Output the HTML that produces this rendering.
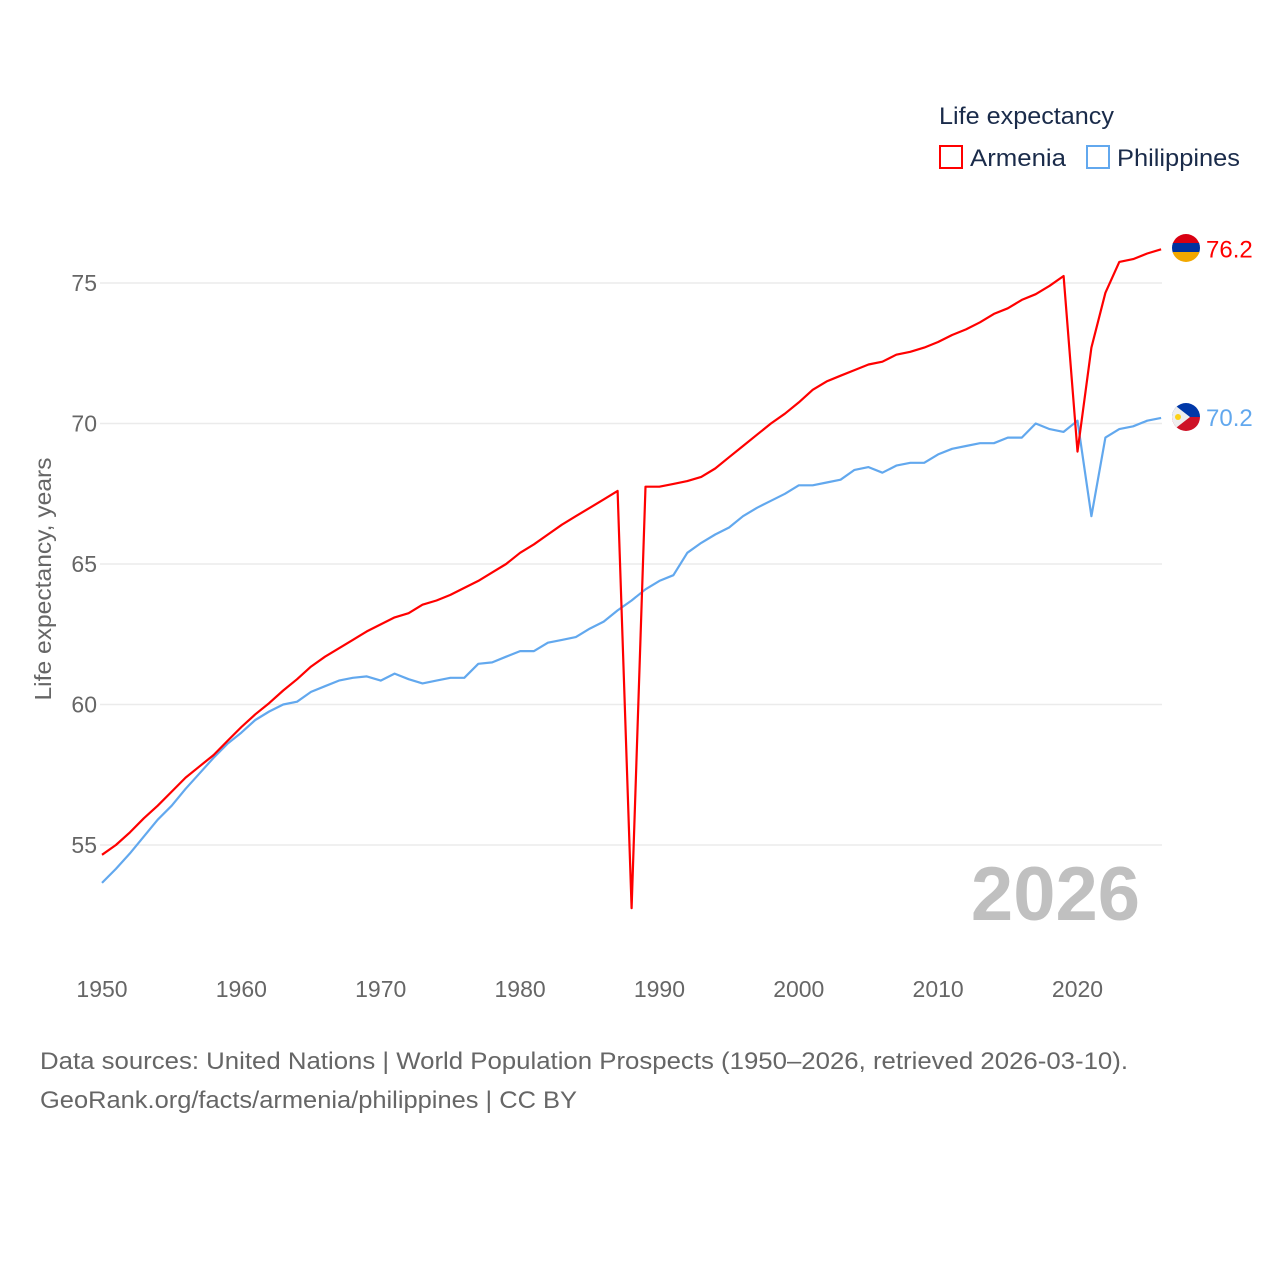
<!DOCTYPE html>
<html><head><meta charset="utf-8"><style>
body{margin:0;background:#fff;}
svg text{font-family:"Liberation Sans",sans-serif;}
</style></head><body>
<svg id="chart" width="1280" height="1280" xmlns="http://www.w3.org/2000/svg">
<rect width="1280" height="1280" fill="#fff"/>
<g id="grid"></g>
<g id="yticks"></g>
<g id="xticks"></g>
<text transform="translate(51,579) rotate(-90)" text-anchor="middle" font-size="23" fill="#666" textLength="243" lengthAdjust="spacingAndGlyphs">Life expectancy, years</text>
<text x="1140" y="920" text-anchor="end" font-size="76" font-weight="bold" fill="#c0c0c0">2026</text>
<g id="series"></g>
<g>
<text x="939" y="124" font-size="24" fill="#1a2b4a" textLength="175" lengthAdjust="spacingAndGlyphs">Life expectancy</text>
<g><rect x="940" y="146" width="22" height="22" fill="none" stroke="#ff0000" stroke-width="2"/><text x="970" y="166" font-size="24" fill="#1a2b4a" textLength="96" lengthAdjust="spacingAndGlyphs">Armenia</text></g>
<g><rect x="1087" y="146" width="22" height="22" fill="none" stroke="#62a8ee" stroke-width="2"/><text x="1117" y="166" font-size="24" fill="#1a2b4a" textLength="123" lengthAdjust="spacingAndGlyphs">Philippines</text></g>
</g>
<g id="ends"></g>
<text x="40" y="1069" font-size="24" fill="#666" textLength="1088" lengthAdjust="spacingAndGlyphs">Data sources: United Nations | World Population Prospects (1950–2026, retrieved 2026-03-10).</text>
<text x="40" y="1108" font-size="24" fill="#666" textLength="537" lengthAdjust="spacingAndGlyphs">GeoRank.org/facts/armenia/philippines | CC BY</text>
<defs>
<clipPath id="cA"><circle cx="1186" cy="248" r="14"/></clipPath>
<clipPath id="cP"><circle cx="1186" cy="417" r="14"/></clipPath>
</defs>
</svg>
<script>
const startYear = 1950;
const armenia = [54.65,55.0,55.45,55.95,56.4,56.9,57.4,57.8,58.2,58.7,59.2,59.65,60.05,60.5,60.9,61.35,61.7,62.0,62.3,62.6,62.85,63.1,63.25,63.55,63.7,63.9,64.15,64.4,64.7,65.0,65.4,65.7,66.05,66.4,66.7,67.0,67.3,67.6,52.75,67.75,67.75,67.85,67.95,68.1,68.4,68.8,69.2,69.6,70.0,70.35,70.75,71.2,71.5,71.7,71.9,72.1,72.2,72.45,72.55,72.7,72.9,73.15,73.35,73.6,73.9,74.1,74.4,74.6,74.9,75.25,69.0,72.7,74.65,75.75,75.85,76.05,76.2];
const philippines = [53.65,54.15,54.7,55.3,55.9,56.4,57.0,57.55,58.1,58.6,59.0,59.45,59.75,60.0,60.1,60.45,60.65,60.85,60.95,61.0,60.85,61.1,60.9,60.75,60.85,60.95,60.95,61.45,61.5,61.7,61.9,61.9,62.2,62.3,62.4,62.7,62.95,63.35,63.7,64.1,64.4,64.6,65.4,65.75,66.05,66.3,66.7,67.0,67.25,67.5,67.8,67.8,67.9,68.0,68.35,68.45,68.25,68.5,68.6,68.6,68.9,69.1,69.2,69.3,69.3,69.5,69.5,70.0,69.8,69.7,70.1,66.7,69.5,69.8,69.9,70.1,70.2];
const yTicks = [55,60,65,70,75];
const xTicks = [1950,1960,1970,1980,1990,2000,2010,2020];
const NS="http://www.w3.org/2000/svg";
const x = yr => 102 + (yr-1950)*(1077.5-102)/70;
const y = v => 283 + (75-v)*(845-283)/20;
function mk(tag, attrs, parent){const e=document.createElementNS(NS,tag);for(const k in attrs)e.setAttribute(k,attrs[k]);parent.appendChild(e);return e;}
const grid=document.getElementById('grid'), yt=document.getElementById('yticks'), xt=document.getElementById('xticks');
yTicks.forEach(t=>{
  const l=mk('line',{x1:100,x2:1162,y1:y(t),y2:y(t),stroke:'#ebebeb','stroke-width':1.5},grid);
  
  
  const tx=mk('text',{x:97,y:y(t)+8,'text-anchor':'end','font-size':23,fill:'#666'},yt);
  tx.textContent=t;
  
  
});
xTicks.forEach(t=>{
  const tx=mk('text',{x:x(t),y:997,'text-anchor':'middle','font-size':23,fill:'#666'},xt);
  tx.textContent=t;
  
  
});
const ser=document.getElementById('series');
function line(arr,color,name){
  const d=arr.map((v,i)=>(i?'L':'M')+x(startYear+i).toFixed(1)+','+y(v).toFixed(1)).join('');
  const p=mk('path',{d:d,fill:'none',stroke:color,'stroke-width':2.2,'stroke-linejoin':'round'},ser);
  
  
}
line(philippines,'#62a8ee','philippines-line');
line(armenia,'#ff0000','armenia-line');
const ends=document.getElementById('ends');
function endLabel(arr,color,name){
  const v=arr[arr.length-1];
  const t=mk('text',{x:1206,y:y(v)+8,'font-size':24,fill:color},ends);
  t.textContent=v.toFixed(1);
  
  
}
endLabel(armenia,'#ff0000','armenia-end-value');
endLabel(philippines,'#62a8ee','philippines-end-value');
const fa=mk('g',{'clip-path':'url(#cA)'},ends);


mk('rect',{x:1172,y:234,width:28,height:10,fill:'#d90012'},fa);
mk('rect',{x:1172,y:243,width:28,height:10,fill:'#0033a0'},fa);
mk('rect',{x:1172,y:252,width:28,height:11,fill:'#f2a800'},fa);
const fp=mk('g',{'clip-path':'url(#cP)'},ends);


mk('rect',{x:1172,y:403,width:28,height:14,fill:'#0038a8'},fp);
mk('rect',{x:1172,y:417,width:28,height:14,fill:'#ce1126'},fp);
mk('polygon',{points:'1172,403 1190,417 1172,431',fill:'#eee'},fp);
mk('circle',{cx:1178,cy:417,r:3,fill:'#fcd116'},fp);
</script>
</body></html>
